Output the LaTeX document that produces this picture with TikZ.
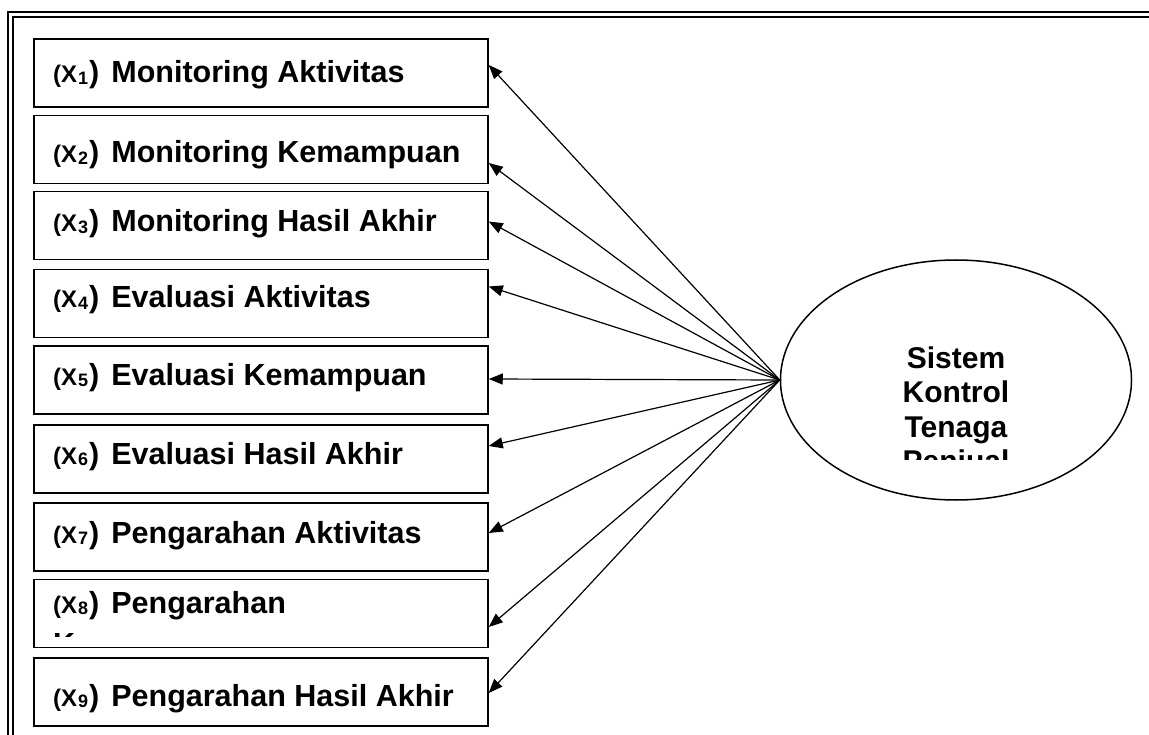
\documentclass[tikz,border=0pt]{standalone}
\usepackage{fontspec}
\setmainfont{Liberation Sans}
\usetikzlibrary{arrows.meta,shapes.geometric}
\newcommand{\VarX}[1]{{\bfseries\fontsize{24}{28}\selectfont(X}\hspace{1pt}\raisebox{-1.5pt}{\bfseries\fontsize{18}{21}\selectfont#1}\hspace{1pt}{\bfseries\fontsize{30.5}{36}\selectfont)}\hspace{12pt}}
\begin{document}
\begin{tikzpicture}[x=1pt,y=-1pt,
  box/.style={draw,line width=1.5pt,minimum width=454pt,minimum height=68pt,inner sep=0pt},
  lbl/.style={anchor=base west,inner sep=0pt,font=\bfseries\fontsize{30.5}{41}\selectfont,align=left},
  oval/.style={draw,ellipse,line width=1.5pt,minimum width=351pt,minimum height=240pt,inner sep=0pt},
  ovaltext/.style={anchor=base,inner sep=0pt,font=\bfseries\fontsize{30}{34.5}\selectfont,align=center},
  arr/.style={line width=1.2pt,-{Triangle[length=14pt,width=11pt]}},
  frameline/.style={line width=1.7pt}]
\useasboundingbox (0,0) rectangle (1149,735);
\fill[white] (0,0) rectangle (1149,735);
\draw[frameline] (8.3,735) -- (8.3,11.7) -- (1149,11.7);
\draw[frameline] (13.3,735) -- (13.3,16.7) -- (1149,16.7);

\node[box] (b1) at (261,73) {};
\node[box] (b2) at (261,149.5) {};
\node[box] (b3) at (261,225.5) {};
\node[box] (b4) at (261,303.5) {};
\node[box] (b5) at (261,380) {};
\node[box] (b6) at (261,459) {};
\node[box] (b7) at (261,537) {};
\node[box] (b8) at (261,613.5) {};
\node[box] (b9) at (261,692) {};

\node[lbl] (l1) at (53,83) {\VarX{1}Monitoring Aktivitas};
\node[lbl] (l2) at (53,163) {\VarX{2}Monitoring Kemampuan};
\node[lbl] (l3) at (53,232) {\VarX{3}Monitoring Hasil Akhir};
\node[lbl] (l4) at (53,308) {\VarX{4}Evaluasi Aktivitas};
\node[lbl] (l5) at (53,385) {\VarX{5}Evaluasi Kemampuan};
\node[lbl] (l6) at (53,464) {\VarX{6}Evaluasi Hasil Akhir};
\node[lbl] (l7) at (53,543) {\VarX{7}Pengarahan Aktivitas};
\begin{scope}
\clip (34,579) rectangle (488,636);
\node[lbl] (l8) at (53,654) {\VarX{8}Pengarahan\\Kemampuan};
\end{scope}
\node[lbl] (l9) at (53,706) {\VarX{9}Pengarahan Hasil Akhir};

\node[oval] (e) at (956,380) {};
\begin{scope}
\clip (781,250) rectangle (1132,459);
\node[ovaltext] (et) at (956,471.5) {Sistem\\Kontrol\\Tenaga\\Penjual};
\end{scope}

\draw[arr] (e.west) -- ([yshift=8pt]b1.east);
\draw[arr] (e.west) -- ([yshift=-13.5pt]b2.east);
\draw[arr] (e.west) -- ([yshift=4pt]b3.east);
\draw[arr] (e.west) -- ([yshift=17pt]b4.east);
\draw[arr] (e.west) -- ([yshift=1pt]b5.east);
\draw[arr] (e.west) -- ([yshift=13pt]b6.east);
\draw[arr] (e.west) -- ([yshift=4pt]b7.east);
\draw[arr] (e.west) -- ([yshift=-13.5pt]b8.east);
\draw[arr] (e.west) -- ([yshift=-1pt]b9.east);
\end{tikzpicture}
\end{document}
